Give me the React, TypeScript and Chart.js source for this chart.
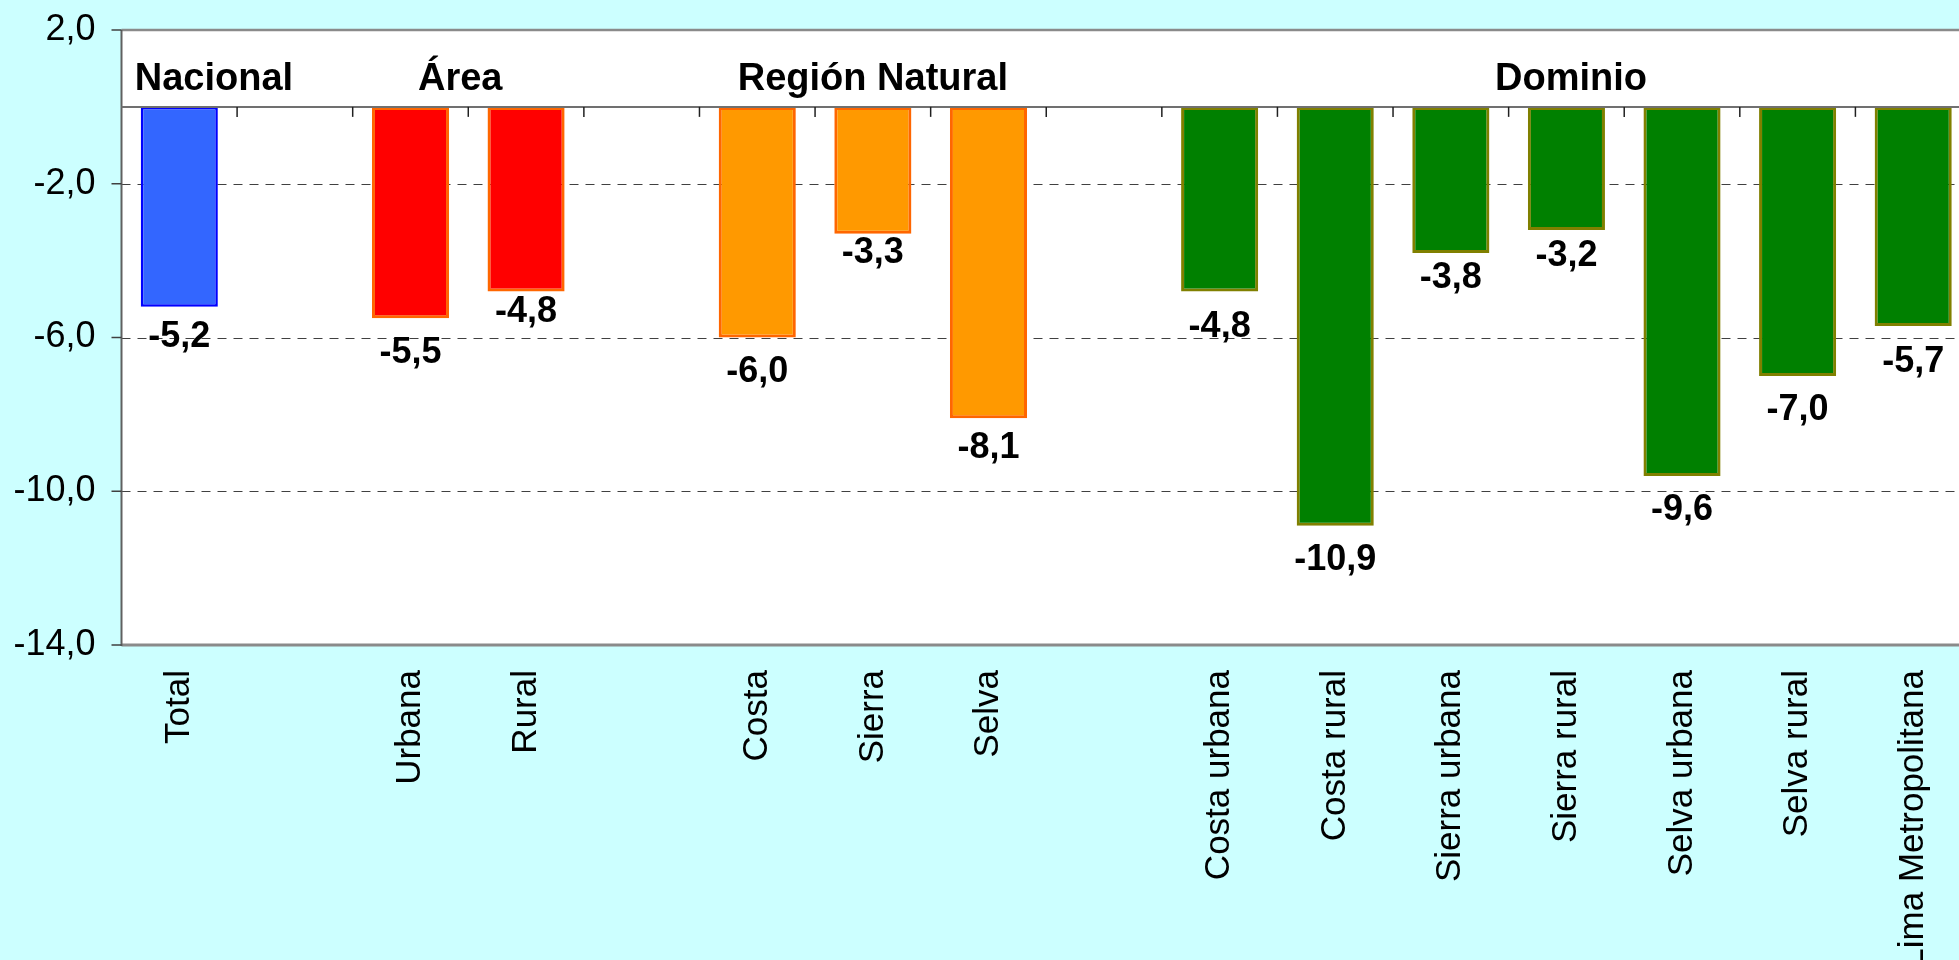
import React, { useEffect, useRef } from "react";
import { Chart, registerables } from "chart.js";

Chart.register(...registerables);

const categories = [
  "Total", "", "Urbana", "Rural", "", "Costa", "Sierra", "Selva", "",
  "Costa urbana", "Costa rural", "Sierra urbana", "Sierra rural",
  "Selva urbana", "Selva rural", "Lima Metropolitana",
];
const values: (number | null)[] = [
  -5.2, null, -5.5, -4.8, null, -6.0, -3.3, -8.1, null,
  -4.8, -10.9, -3.8, -3.2, -9.6, -7.0, -5.7,
];
const groupOf: (number | null)[] = [0, null, 1, 1, null, 2, 2, 2, null, 3, 3, 3, 3, 3, 3, 3];
const groupNames = ["Nacional", "Área", "Región Natural", "Dominio"];
const groupFill = ["#3366FF", "#FF0000", "#FF9900", "#008000"];
const groupBorder = ["#0000FF", "#FF6600", "#FF6600", "#808000"];
const groupHeaderAt = [0.3, 2.43, 6.0, 12.04];
const yTicks = [2, -2, -6, -10, -14];
const gridValues = [-2, -6, -10];
// distance (px) from bar end to value-label centre, as placed in the original
const labelNudge = [30, 0, 35, 21, 0, 35, 19, 30, 0, 36, 34, 25, 26, 34, 34, 36];

const FONT = "Arial, 'Liberation Sans', sans-serif";
const fmt = (v: number) => v.toFixed(1).replace(".", ",");

const CANVAS_W = 1990;
const CANVAS_H = 960;

const decorPlugin = {
  id: "decor",
  beforeDraw(chart: any) {
    const { ctx, chartArea: a } = chart;
    ctx.save();
    ctx.fillStyle = "#FFFFFF";
    ctx.fillRect(a.left, a.top, a.right - a.left, a.bottom - a.top);
    ctx.restore();
  },
  beforeDatasetsDraw(chart: any) {
    const { ctx, chartArea: a } = chart;
    const y = chart.scales.y;
    ctx.save();
    ctx.strokeStyle = "#404040";
    ctx.lineWidth = 1;
    ctx.setLineDash([9, 7]);
    gridValues.forEach((v) => {
      const py = Math.round(y.getPixelForValue(v)) + 0.5;
      ctx.beginPath();
      ctx.moveTo(a.left, py);
      ctx.lineTo(a.right, py);
      ctx.stroke();
    });
    ctx.restore();
  },
  afterDatasetsDraw(chart: any) {
    const { ctx, chartArea: a } = chart;
    const y = chart.scales.y;
    const x = chart.scales.x;
    ctx.save();
    ctx.setLineDash([]);
    // top border
    ctx.strokeStyle = "#8A8A8A";
    ctx.lineWidth = 2.5;
    ctx.beginPath();
    ctx.moveTo(a.left, a.top);
    ctx.lineTo(a.right, a.top);
    ctx.stroke();
    // bottom border
    ctx.lineWidth = 3;
    ctx.beginPath();
    ctx.moveTo(a.left, a.bottom);
    ctx.lineTo(a.right, a.bottom);
    ctx.stroke();
    // left axis
    ctx.strokeStyle = "#606060";
    ctx.lineWidth = 2;
    ctx.beginPath();
    ctx.moveTo(a.left, a.top);
    ctx.lineTo(a.left, a.bottom + 1);
    ctx.stroke();
    // y tick marks
    ctx.strokeStyle = "#404040";
    ctx.lineWidth = 1.5;
    yTicks.forEach((v) => {
      const py = y.getPixelForValue(v);
      ctx.beginPath();
      ctx.moveTo(a.left - 10, py);
      ctx.lineTo(a.left, py);
      ctx.stroke();
    });
    // zero line
    const y0 = y.getPixelForValue(0);
    ctx.strokeStyle = "#707070";
    ctx.lineWidth = 2;
    ctx.beginPath();
    ctx.moveTo(a.left, y0);
    ctx.lineTo(a.right, y0);
    ctx.stroke();
    // x tick marks at category boundaries
    ctx.strokeStyle = "#202020";
    ctx.lineWidth = 1.5;
    for (let i = 1; i < categories.length; i++) {
      const px = (x.getPixelForValue(i - 1) + x.getPixelForValue(i)) / 2;
      ctx.beginPath();
      ctx.moveTo(px, y0);
      ctx.lineTo(px, y0 + 10);
      ctx.stroke();
    }
    // value labels
    ctx.fillStyle = "#000000";
    ctx.font = `bold 36px ${FONT}`;
    ctx.textAlign = "center";
    ctx.textBaseline = "middle";
    const meta = chart.getDatasetMeta(0);
    meta.data.forEach((bar: any, i: number) => {
      const v = values[i];
      if (v === null || v === undefined) return;
      ctx.fillText(fmt(v), bar.x, bar.y + labelNudge[i]);
    });
    // group headers
    ctx.font = `bold 38px ${FONT}`;
    ctx.textBaseline = "alphabetic";
    groupNames.forEach((name, gi) => {
      const px = x.getPixelForValue(groupHeaderAt[gi]);
      const py = y.getPixelForValue(0.45);
      ctx.fillText(name, px, py);
    });
    ctx.restore();
  },
};

export default function App() {
  const ref = useRef<HTMLCanvasElement | null>(null);

  useEffect(() => {
    if (!ref.current) return;
    const chart = new Chart(ref.current, {
      type: "bar",
      data: {
        labels: categories,
        datasets: [
          {
            data: values as any,
            backgroundColor: groupOf.map((g) => (g === null ? "transparent" : groupFill[g])),
            borderColor: groupOf.map((g) => (g === null ? "transparent" : groupBorder[g])),
            borderWidth: groupOf.map((g) => (g === 0 ? 2.5 : 3)),
            borderSkipped: false,
            categoryPercentage: 1,
            barPercentage: 0.667,
          } as any,
        ],
      },
      options: {
        responsive: false,
        maintainAspectRatio: false,
        devicePixelRatio: 1,
        animation: false,
        layout: { padding: { top: 30, left: 0, right: CANVAS_W - 1971, bottom: 0 } },
        plugins: {
          legend: { display: false },
          tooltip: { enabled: false },
        },
        scales: {
          x: {
            type: "category",
            grid: { display: false, drawTicks: false },
            border: { display: false },
            afterFit: (s: any) => {
              s.height = 315;
              s.paddingLeft = 0;
              s.paddingRight = 0;
            },
            ticks: {
              autoSkip: false,
              maxRotation: 90,
              minRotation: 90,
              padding: 25,
              color: "#000000",
              font: { family: FONT, size: 35 },
            },
          },
          y: {
            type: "linear",
            min: -14,
            max: 2,
            afterFit: (s: any) => {
              s.width = 121.5;
              s.paddingTop = 0;
              s.paddingBottom = 0;
            },
            afterBuildTicks: (s: any) => {
              s.ticks = yTicks.map((v) => ({ value: v }));
            },
            grid: { display: false, drawTicks: false },
            border: { display: false },
            ticks: {
              padding: 26,
              color: "#000000",
              font: { family: FONT, size: 36 },
              callback: (v: any) => fmt(Number(v)),
            },
          },
        },
      } as any,
      plugins: [decorPlugin],
    });
    return () => chart.destroy();
  }, []);

  return (
    <div
      style={{
        position: "fixed",
        left: 0,
        top: 0,
        width: 1959,
        height: 960,
        overflow: "hidden",
        background: "#CCFFFF",
      }}
    >
      <canvas
        ref={ref}
        width={CANVAS_W}
        height={CANVAS_H}
        style={{ display: "block", width: CANVAS_W, height: CANVAS_H }}
      />
    </div>
  );
}
